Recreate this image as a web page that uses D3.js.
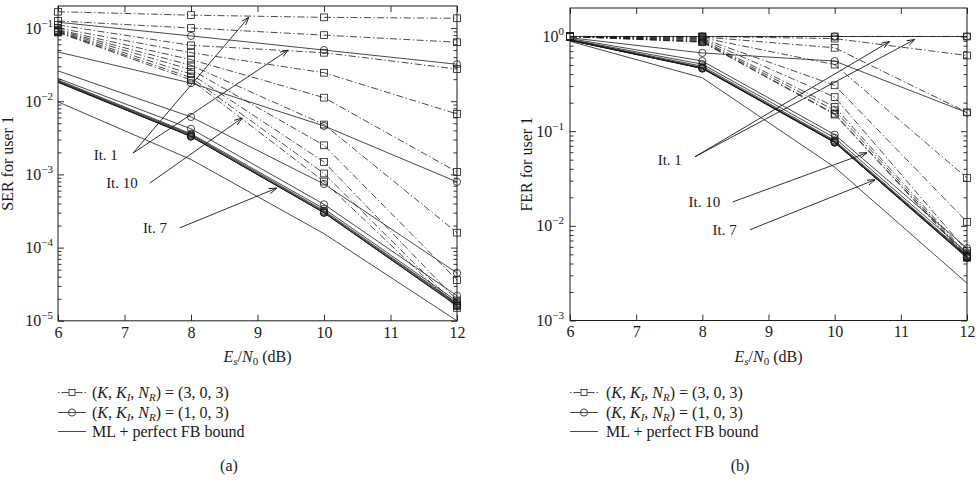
<!DOCTYPE html>
<html>
<head>
<meta charset="utf-8">
<script src="https://cdn.jsdelivr.net/npm/d3@7"></script>
<style>
  body { margin: 0; background: #fff; }
  svg { font-family: "Liberation Serif", "DejaVu Serif", serif; }
</style>
</head>
<body>
<svg id="chart" width="976" height="488"></svg>
<script>
/* globals d3 */
const snr = [6, 8, 10, 12]

// (a) SER for user 1 -- one row per iteration (It. 1 ... It. 10)
const serK3 = [
  [0.167, 0.150, 0.140, 0.136],
  [0.125, 0.100, 0.080, 0.064],
  [0.110, 0.058, 0.046, 0.0275],
  [0.100, 0.046, 0.0245, 0.0067],
  [0.095, 0.037, 0.0112, 0.00108],
  [0.093, 0.031, 0.0048, 0.00016],
  [0.091, 0.027, 0.0025, 3.6e-5],
  [0.089, 0.0235, 0.00148, 1.9e-5],
  [0.088, 0.021, 0.00103, 1.6e-5],
  [0.087, 0.0195, 0.0008, 1.5e-5]
]
const serK1 = [
  [0.120, 0.078, 0.050, 0.032],
  [0.047, 0.0177, 0.0046, 0.00079],
  [0.026, 0.0061, 0.00074, 4.5e-5],
  [0.0205, 0.0042, 0.00039, 2.2e-5],
  [0.0195, 0.0036, 0.00034, 1.85e-5],
  [0.019, 0.0035, 0.00032, 1.75e-5],
  [0.0186, 0.0034, 0.00031, 1.7e-5],
  [0.0184, 0.0033, 0.00030, 1.65e-5],
  [0.0182, 0.0033, 0.00030, 1.6e-5],
  [0.0181, 0.0033, 0.00030, 1.6e-5]
]
const serBound = [0.0098, 0.0016, 1.55e-4, 1.0e-5]

// (b) FER for user 1
const ferK3 = [
  [1.0, 1.0, 1.0, 1.0],
  [1.0, 1.0, 0.95, 0.63],
  [1.0, 0.99, 0.76, 0.158],
  [1.0, 0.97, 0.505, 0.032],
  [1.0, 0.95, 0.305, 0.011],
  [1.0, 0.93, 0.229, 0.0054],
  [1.0, 0.91, 0.18, 0.0050],
  [1.0, 0.89, 0.166, 0.0048],
  [1.0, 0.88, 0.153, 0.0047],
  [1.0, 0.87, 0.150, 0.0046]
]
const ferK1 = [
  [1.0, 1.0, 1.0, 1.0],
  [0.97, 0.67, 0.55, 0.157],
  [0.95, 0.55, 0.092, 0.0058],
  [0.93, 0.51, 0.085, 0.0052],
  [0.92, 0.485, 0.080, 0.0049],
  [0.92, 0.47, 0.078, 0.0048],
  [0.91, 0.465, 0.077, 0.0047],
  [0.91, 0.46, 0.076, 0.0047],
  [0.91, 0.46, 0.076, 0.0046],
  [0.91, 0.46, 0.076, 0.0046]
]
const ferBound = [0.89, 0.366, 0.0416, 0.00248]

const serTicks = [1e-5, 1e-4, 1e-3, 1e-2, 1e-1]
const ferTicks = [1e-3, 1e-2, 1e-1, 1]
const xTicks = [6, 7, 8, 9, 10, 11, 12]

// annotations in data units: label position, arrow start, arrow tips
const serNotes = [
  { text: 'It. 1', at: [6.90, 0.00184], from: [7.13, 0.00196], to: [[8.87, 0.141], [9.46, 0.050]] },
  { text: 'It. 10', at: [7.20, 0.00076], from: [7.38, 0.00076], to: [[8.77, 0.0059]] },
  { text: 'It. 7', at: [7.64, 0.000186], from: [7.83, 0.000186], to: [[9.29, 0.00065]] }
]
const ferNotes = [
  { text: 'It. 1', at: [7.69, 0.050], from: [7.89, 0.0537], to: [[10.83, 0.885], [11.21, 0.93]] },
  { text: 'It. 10', at: [8.27, 0.0179], from: [8.46, 0.0179], to: [[10.49, 0.0592]] },
  { text: 'It. 7', at: [8.52, 0.0091], from: [8.72, 0.0091], to: [[10.61, 0.0307]] }
]

const ink = '#1a1a1a'
const dashDot = '7,2.5,1.3,2.5'
const svg = d3.select('#chart')

svg.append('defs').append('marker')
  .attr('id', 'head')
  .attr('viewBox', '0 0 10 10')
  .attr('refX', 10).attr('refY', 5)
  .attr('markerWidth', 8).attr('markerHeight', 8)
  .attr('markerUnits', 'userSpaceOnUse')
  .attr('orient', 'auto')
  .append('path')
  .attr('d', 'M0,1.6L10,5L0,8.4')
  .attr('fill', 'none').attr('stroke', ink).attr('stroke-width', 1.1)

function legendLabel(t, n) {
  t.append('tspan').text('(')
  t.append('tspan').attr('font-style', 'italic').text('K')
  t.append('tspan').text(', ')
  t.append('tspan').attr('font-style', 'italic').text('K')
  t.append('tspan').attr('font-style', 'italic').attr('font-size', 11).attr('dy', 3).text('I')
  t.append('tspan').attr('dy', -3).text(', ')
  t.append('tspan').attr('font-style', 'italic').text('N')
  t.append('tspan').attr('font-style', 'italic').attr('font-size', 11).attr('dy', 3).text('R')
  t.append('tspan').attr('dy', -3).text(`) = (${n}, 0, 3)`)
}

function drawPanel(p) {
  const x = d3.scaleLinear().domain([6, 12]).range([p.x0, p.x1])
  const y = d3.scaleLog().domain(p.yDomain).range([p.y1, p.y0])
  const g = svg.append('g')

  // minor log ticks
  const minors = []
  const lo = Math.round(Math.log10(p.yDomain[0]))
  const hi = Math.ceil(Math.log10(p.yDomain[1]))
  for (let e = lo; e < hi; e++)
    for (let k = 2; k <= 9; k++) {
      const v = k * Math.pow(10, e)
      if (v < p.yDomain[1] * 0.999) minors.push(v)
    }

  const clean = sel => {
    sel.select('.domain').remove()
    sel.selectAll('line').attr('stroke', ink).attr('stroke-width', 0.9)
    sel.attr('font-size', 16).attr('font-family', null)
    sel.selectAll('text').attr('fill', ink)
  }

  g.append('g').attr('transform', `translate(0,${p.y1})`)
    .call(d3.axisBottom(x).tickValues(xTicks).tickSizeInner(-6).tickSizeOuter(0).tickPadding(5.5).tickFormat(d3.format('d')))
    .call(clean)
  g.append('g').attr('transform', `translate(0,${p.y0})`)
    .call(d3.axisTop(x).tickValues(xTicks).tickSizeInner(-6).tickSizeOuter(0).tickFormat(''))
    .call(clean)

  const yl = g.append('g').attr('transform', `translate(${p.x0},0)`)
    .call(d3.axisLeft(y).tickValues(p.yTicks).tickSizeInner(-6).tickSizeOuter(0).tickPadding(p.labelPad).tickFormat(''))
    .call(clean)
  yl.selectAll('.tick text').each(function (d) {
    const t = d3.select(this)
    const e = Math.round(Math.log10(d))
    t.text('10')
    t.append('tspan').attr('font-size', 11).attr('dy', -7)
      .text(e < 0 ? '\u2212' + (-e) : String(e))
  })
  g.append('g').attr('transform', `translate(${p.x0},0)`)
    .call(d3.axisLeft(y).tickValues(minors).tickSizeInner(-3.5).tickSizeOuter(0).tickFormat(''))
    .call(clean)
  g.append('g').attr('transform', `translate(${p.x1},0)`)
    .call(d3.axisRight(y).tickValues(p.yTicks).tickSizeInner(-6).tickSizeOuter(0).tickFormat(''))
    .call(clean)
  g.append('g').attr('transform', `translate(${p.x1},0)`)
    .call(d3.axisRight(y).tickValues(minors).tickSizeInner(-3.5).tickSizeOuter(0).tickFormat(''))
    .call(clean)

  g.append('rect')
    .attr('x', p.x0).attr('y', p.y0)
    .attr('width', p.x1 - p.x0).attr('height', p.y1 - p.y0)
    .attr('fill', 'none').attr('stroke', ink).attr('stroke-width', 1)

  const line = d3.line().x(d => x(d[0])).y(d => y(d[1]))
  const pts = vals => snr.map((s, i) => [s, vals[i]])
  const curves = g.append('g').attr('fill', 'none').attr('stroke', ink).attr('stroke-width', 0.8)

  curves.append('path').attr('d', line(pts(p.bound)))

  p.k1.forEach(row => {
    curves.append('path').attr('d', line(pts(row)))
    curves.selectAll(null).data(pts(row).slice(1)).join('circle')
      .attr('cx', d => x(d[0])).attr('cy', d => y(d[1])).attr('r', 3.6)
  })
  p.k3.forEach(row => {
    curves.append('path').attr('d', line(pts(row))).attr('stroke-dasharray', dashDot)
    curves.selectAll(null).data(pts(row)).join('rect')
      .attr('x', d => x(d[0]) - 3.4).attr('y', d => y(d[1]) - 3.4)
      .attr('width', 6.8).attr('height', 6.8)
  })

  // annotations
  const notes = g.append('g')
  p.notes.forEach(n => {
    notes.append('text')
      .attr('x', x(n.at[0])).attr('y', y(n.at[1])).attr('dy', '0.35em')
      .attr('text-anchor', 'end').attr('font-size', 15).attr('fill', ink)
      .text(n.text)
    n.to.forEach(t => {
      notes.append('line')
        .attr('x1', x(n.from[0])).attr('y1', y(n.from[1]))
        .attr('x2', x(t[0])).attr('y2', y(t[1]))
        .attr('stroke', ink).attr('stroke-width', 0.9)
        .attr('marker-end', 'url(#head)')
    })
  })

  // axis titles
  g.append('text')
    .attr('transform', `translate(${p.yTitleX},${(p.y0 + p.y1) / 2}) rotate(-90)`)
    .attr('text-anchor', 'middle').attr('font-size', 16).attr('fill', ink)
    .text(p.yTitle)
  const xt = g.append('text')
    .attr('x', (p.x0 + p.x1) / 2).attr('y', 362)
    .attr('text-anchor', 'middle').attr('font-size', 16).attr('fill', ink)
  xt.append('tspan').attr('font-style', 'italic').text('E')
  xt.append('tspan').attr('font-style', 'italic').attr('font-size', 11).attr('dy', 3).text('s')
  xt.append('tspan').attr('dy', -3).text('/')
  xt.append('tspan').attr('font-style', 'italic').text('N')
  xt.append('tspan').attr('font-size', 11).attr('dy', 3).text('0')
  xt.append('tspan').attr('dy', -3).text(' (dB)')

  // legend
  const lg = g.append('g').attr('transform', `translate(${p.x0},0)`)
  const rows = [392.5, 412.5, 431.5]
  lg.append('line').attr('x1', 0).attr('x2', 28).attr('y1', rows[0]).attr('y2', rows[0])
    .attr('stroke', ink).attr('stroke-width', 0.8).attr('stroke-dasharray', '1.2,2.3,7,7,7,2.3,1.2')
  lg.append('rect').attr('x', 11).attr('y', rows[0] - 3).attr('width', 6).attr('height', 6)
    .attr('fill', 'none').attr('stroke', ink).attr('stroke-width', 0.8)
  lg.append('line').attr('x1', 0).attr('x2', 28).attr('y1', rows[1]).attr('y2', rows[1])
    .attr('stroke', ink).attr('stroke-width', 0.8)
  lg.append('circle').attr('cx', 14).attr('cy', rows[1]).attr('r', 3.6)
    .attr('fill', 'none').attr('stroke', ink).attr('stroke-width', 0.8)
  lg.append('line').attr('x1', 0).attr('x2', 28).attr('y1', rows[2]).attr('y2', rows[2])
    .attr('stroke', ink).attr('stroke-width', 0.8)

  const lt = (yy) => lg.append('text').attr('x', p.legendTextX).attr('y', yy + 5)
    .attr('font-size', 16).attr('fill', ink)
  legendLabel(lt(rows[0]), 3)
  legendLabel(lt(rows[1]), 1)
  lt(rows[2]).text('ML + perfect FB bound')

  g.append('text')
    .attr('x', p.tagX).attr('y', 471)
    .attr('text-anchor', 'middle').attr('font-size', 16).attr('fill', ink)
    .text(p.tag)
}

drawPanel({
  x0: 58, x1: 457, y0: 6, y1: 320.8,
  yDomain: [1e-5, 0.2], yTicks: serTicks, labelPad: 5,
  k3: serK3, k1: serK1, bound: serBound, notes: serNotes,
  yTitle: 'SER for user 1', yTitleX: 13,
  legendTextX: 34, tag: '(a)', tagX: 229
})
drawPanel({
  x0: 570, x1: 967, y0: 8, y1: 320.5,
  yDomain: [1e-3, 2], yTicks: ferTicks, labelPad: 6,
  k3: ferK3, k1: ferK1, bound: ferBound, notes: ferNotes,
  yTitle: 'FER for user 1', yTitleX: 532,
  legendTextX: 36, tag: '(b)', tagX: 740
})
</script>
</body>
</html>
